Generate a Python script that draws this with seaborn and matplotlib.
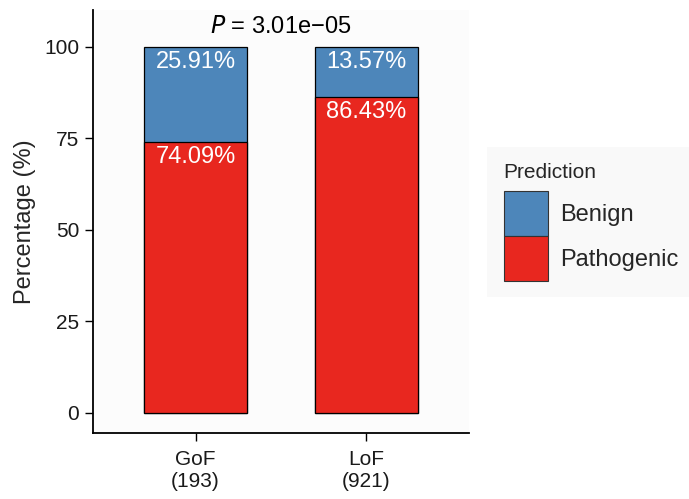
import matplotlib
matplotlib.use("Agg")
import matplotlib.pyplot as plt
from matplotlib.patches import Patch
import numpy as np
import pandas as pd
import seaborn as sns

# Percentages of predicted classes per variant group
groups = ["GoF", "LoF"]
group_counts = [193, 921]
pathogenic = [74.09, 86.43]
benign = [25.91, 13.57]
p_value_text = "3.01e\u221205"

tick_labels = [f"{g}\n({n})" for g, n in zip(groups, group_counts)]
colors = {"Benign": "#4D86BA", "Pathogenic": "#E8271F"}

df = pd.DataFrame({
    "group": groups,
    "Pathogenic": pathogenic,
    "Benign": benign,
})
df["top"] = df["Pathogenic"] + df["Benign"]

sns.set_theme(style="ticks")
plt.rcParams["font.family"] = ["Liberation Sans", "DejaVu Sans"]

fig = plt.figure(figsize=(6.89, 4.99), dpi=100)
ax = fig.add_axes([93 / 689, 1 - 433 / 499, (469 - 93) / 689, (433 - 10) / 499])
ax.set_facecolor("#FCFCFC")

# Stacked bars: full stack (Benign on top) then Pathogenic underneath
sns.barplot(data=df, x="group", y="top", color=colors["Benign"], width=0.6,
            edgecolor="black", linewidth=0.9, saturation=1, ax=ax)
sns.barplot(data=df, x="group", y="Pathogenic", color=colors["Pathogenic"], width=0.6,
            edgecolor="black", linewidth=0.9, saturation=1, ax=ax)

for i in range(len(groups)):
    ax.annotate(f"{benign[i]:.2f}%", (i, df["top"][i]), xytext=(0, -3),
                textcoords="offset points", ha="center", va="top",
                color="white", fontsize=17)
    ax.annotate(f"{pathogenic[i]:.2f}%", (i, pathogenic[i]), xytext=(0, -3),
                textcoords="offset points", ha="center", va="top",
                color="white", fontsize=17)

ax.text(0.5, 105.5, "$P$ = " + p_value_text, ha="center", va="center",
        fontsize=17, color="black")

ax.set_xlim(-0.6, 1.6)
ax.set_ylim(-5.5, 110.1)
ax.set_yticks([0, 25, 50, 75, 100])
ax.set_xticks(range(len(groups)))
ax.set_xticklabels(tick_labels)
ax.set_xlabel("")
ax.set_ylabel("Percentage (%)", fontsize=17, labelpad=6)
ax.tick_params(axis="y", labelsize=15, length=6, width=1, color="black",
               labelcolor="#1a1a1a", pad=4)
ax.tick_params(axis="x", labelsize=15, length=6, width=1, color="black",
               labelcolor="#1a1a1a", pad=6)
for side in ["top", "right"]:
    ax.spines[side].set_visible(False)
for side in ["left", "bottom"]:
    ax.spines[side].set_color("black")
    ax.spines[side].set_linewidth(1.3)

handles = [Patch(facecolor=colors[k], edgecolor="#333333", linewidth=0.8, label=k)
           for k in ["Benign", "Pathogenic"]]
leg = fig.legend(handles=handles, title="Prediction", loc="center left",
                 bbox_to_anchor=(487 / 689, 1 - 222 / 499),
                 fontsize=17, title_fontsize=15, frameon=True,
                 handlelength=1.9, handleheight=2.55, handletextpad=0.5,
                 labelspacing=0.0, borderpad=0.7, alignment="left",
                 borderaxespad=0)
# extra room between the legend title and its keys
leg._legend_box.sep = 6.5
leg.get_frame().set_facecolor("#F8F8F8")
leg.get_frame().set_edgecolor("none")
leg.get_frame().set_boxstyle("square", pad=0)

fig.savefig("out.png", dpi=100, facecolor="white")
